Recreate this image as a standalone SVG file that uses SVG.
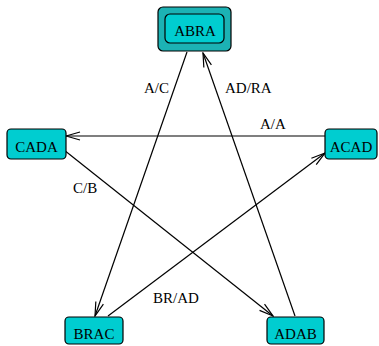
<svg xmlns="http://www.w3.org/2000/svg" width="379" height="346" viewBox="0 0 379 346">
<style>
.node{fill:#00cdd0;stroke:#000;stroke-width:1.2}
.outer{fill:#1cb2b4;stroke:#000;stroke-width:1.2}
.lbl{font-family:"Liberation Serif",serif;font-size:15px;fill:#000}
.ntxt{font-family:"Liberation Serif",serif;font-size:15px;fill:#000;text-anchor:middle}
.edge{stroke:#000;stroke-width:1.2;fill:none;marker-end:url(#arr)}
</style>
<defs>
<marker id="arr" markerUnits="userSpaceOnUse" markerWidth="16" markerHeight="10" viewBox="0 0 16 10" refX="15" refY="5" orient="auto">
<path d="M1,1 L15,5 L1,9" fill="none" stroke="#000" stroke-width="1.2"/>
</marker>
</defs>
<rect width="379" height="346" fill="#fff"/>
<g id="connectors">
<line class="edge" x1="187" y1="52" x2="95" y2="316"/>
<line class="edge" x1="295" y1="316" x2="203" y2="53"/>
<line class="edge" x1="325" y1="136" x2="66" y2="136"/>
<line class="edge" x1="64" y1="150" x2="273" y2="316"/>
<line class="edge" x1="108" y1="316" x2="325" y2="153"/>
<text class="lbl" x="144" y="93">A/C</text>
<text class="lbl" x="225" y="93">AD/RA</text>
<text class="lbl" x="260" y="129">A/A</text>
<text class="lbl" x="73" y="193">C/B</text>
<text class="lbl" x="153" y="303">BR/AD</text>
</g>
<g id="ABRA">
<rect class="outer" x="158" y="7" width="73" height="44" rx="5"/>
<rect class="node" x="165" y="14" width="59" height="29" rx="5"/>
<text class="ntxt" x="195" y="36">ABRA</text>
</g>
<g id="CADA">
<rect class="node" x="7" y="129" width="59" height="30" rx="4"/>
<text class="ntxt" x="36.5" y="152">CADA</text>
</g>
<g id="ACAD">
<rect class="node" x="325" y="129" width="52" height="30" rx="4"/>
<text class="ntxt" x="351" y="152">ACAD</text>
</g>
<g id="BRAC">
<rect class="node" x="65" y="317" width="58" height="27" rx="4"/>
<text class="ntxt" x="94" y="339">BRAC</text>
</g>
<g id="ADAB">
<rect class="node" x="267" y="317" width="57" height="27" rx="4"/>
<text class="ntxt" x="295.5" y="339">ADAB</text>
</g>
</svg>
